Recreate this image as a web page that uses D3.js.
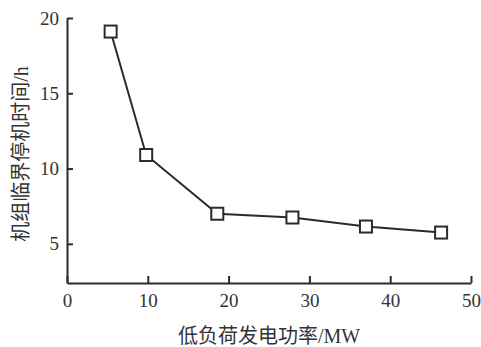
<!DOCTYPE html>
<html lang="zh">
<head>
  <meta charset="UTF-8" />
  <title>低负荷发电功率与机组临界停机时间</title>
  <script src="https://cdn.jsdelivr.net/npm/d3@7"></script>
  <style>
    body {
      margin: 0;
      background: #fff;
    }
    svg text {
      font-family: "Liberation Serif", "Noto Sans CJK SC", serif;
      fill: #333;
    }
  </style>
</head>
<body>
  <svg id="chart"></svg>
  <script>
// values
const power = [5.4, 9.8, 18.6, 27.9, 37.0, 46.3];
const stopTime = [19.1, 10.9, 7.0, 6.75, 6.15, 5.75];
const xTicks = [0, 10, 20, 30, 40, 50];
const yTicks = [5, 10, 15, 20];
const xTitle = "低负荷发电功率/MW";
const yTitle = "机组临界停机时间/h";

const width = 481, height = 347;
const ink = "#2b2b2b";

const svg = d3.select("#chart")
  .attr("width", width)
  .attr("height", height);

const x = d3.scaleLinear().domain([0, 50]).range([67, 471]);
const y = d3.scaleLinear().domain([2.4, 20]).range([283, 18]);

// x axis, ticks pointing inward
const xAxis = svg.append("g")
  .attr("transform", `translate(0,${y(2.4)})`)
  .call(d3.axisBottom(x).tickValues(xTicks).tickSizeInner(-7).tickSizeOuter(0).tickPadding(11));

// y axis, ticks pointing inward
const yAxis = svg.append("g")
  .attr("transform", `translate(${x(0)},0)`)
  .call(d3.axisLeft(y).tickValues(yTicks).tickSizeInner(-6).tickSizeOuter(0).tickPadding(8));

[xAxis, yAxis].forEach(g => {
  g.attr("font-family", null).attr("font-size", null);
  g.select(".domain").attr("stroke", ink).attr("stroke-width", 2);
  g.selectAll(".tick line").attr("stroke", ink).attr("stroke-width", 2);
  g.selectAll(".tick text")
    .style("font-size", "19px")
    .style("font-family", "'Liberation Serif', serif");
});

// data line
const points = power.map((p, i) => ({ p: p, t: stopTime[i] }));

const line = d3.line()
  .x(d => x(d.p))
  .y(d => y(d.t));

svg.append("path")
  .datum(points)
  .attr("d", line)
  .attr("fill", "none")
  .attr("stroke", ink)
  .attr("stroke-width", 2);

// square markers
const s = 12;
svg.selectAll(".marker")
  .data(points)
  .enter()
  .append("rect")
  .attr("class", "marker")
  .attr("x", d => x(d.p) - s / 2)
  .attr("y", d => y(d.t) - s / 2)
  .attr("width", s)
  .attr("height", s)
  .attr("fill", "#fff")
  .attr("stroke", ink)
  .attr("stroke-width", 2);

// axis titles
svg.append("text")
  .attr("x", 269)
  .attr("y", 343)
  .attr("text-anchor", "middle")
  .style("font-size", "20px")
  .text(xTitle);

svg.append("text")
  .attr("transform", "translate(28,154) rotate(-90)")
  .attr("text-anchor", "middle")
  .style("font-size", "20px")
  .text(yTitle);
  </script>
</body>
</html>
